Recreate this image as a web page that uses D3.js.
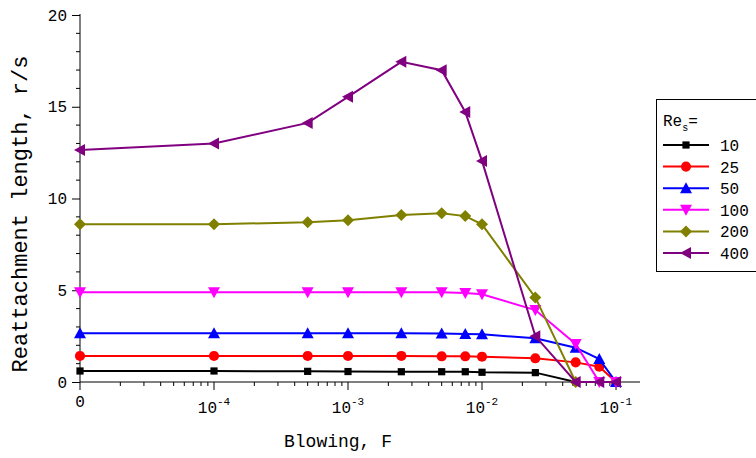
<!DOCTYPE html>
<html>
<head>
<meta charset="utf-8">
<script src="https://cdn.jsdelivr.net/npm/d3@7"></script>
<style>
  body { margin: 0; background: #fff; }
  svg text { font-family: "Liberation Mono", "DejaVu Sans Mono", monospace; fill: #000; }
</style>
</head>
<body>
<div id="chart"></div>
<script>
// DATA
const blowing = [0, 1e-4, 5e-4, 1e-3, 2.5e-3, 5e-3, 7.5e-3, 1e-2, 2.5e-2, 5e-2, 7.5e-2, 1e-1];
const re10  = [0.60, 0.60, 0.58, 0.57, 0.56, 0.56, 0.56, 0.53, 0.51, 0];
const re25  = [1.42, 1.42, 1.42, 1.42, 1.42, 1.40, 1.40, 1.38, 1.29, 1.07, 0.83, 0];
const re50  = [2.65, 2.65, 2.65, 2.65, 2.65, 2.64, 2.62, 2.60, 2.38, 1.87, 1.25, 0];
const re100 = [4.89, 4.89, 4.89, 4.89, 4.89, 4.89, 4.85, 4.78, 3.92, 2.07, 0, 0];
const re200 = [8.59, 8.60, 8.70, 8.81, 9.10, 9.20, 9.04, 8.59, 4.61, 0];
const re400 = [12.64, 13.00, 14.12, 15.54, 17.45, 16.99, 14.72, 12.05, 2.50, 0, 0, 0];
const seriesNames = ["10", "25", "50", "100", "200", "400"];
const seriesValues = [re10, re25, re50, re100, re200, re400];
const yTicks = [0, 5, 10, 15, 20];
const xMajor = [1e-4, 1e-3, 1e-2, 1e-1];
const xExp = ["-4", "-3", "-2", "-1"];

const colors = ["#000000", "#ff0000", "#0000ff", "#ff00ff", "#808000", "#800080"];
const shapes = ["square", "circle", "up", "down", "diamond", "left"];

const width = 756, height = 458;
const ZERO = 1e-5; // "0" is drawn one decade below 10^-4

const svg = d3.select("#chart").append("svg")
  .attr("width", width).attr("height", height);

const x = d3.scaleLog().domain([ZERO, 0.151]).range([80, 640]);
const y = d3.scaleLinear().domain([0, 20]).range([382, 15]);
const xv = v => x(v === 0 ? ZERO : v);

// AXES
const yAxis = d3.axisLeft(y).tickValues(yTicks).tickSize(8).tickPadding(5).tickFormat(d3.format("d"));
const gy = svg.append("g").attr("transform", "translate(80,0)").call(yAxis);
gy.select(".domain").attr("d", `M0,${y(20) - 1}V${y(0)}`);
gy.selectAll("text").style("font-size", "16px");

// minor y ticks
svg.append("g").selectAll("line")
  .data(d3.range(0, 21).filter(d => d % 5 !== 0))
  .join("line")
  .attr("x1", 76).attr("x2", 80)
  .attr("y1", d => y(d)).attr("y2", d => y(d))
  .attr("stroke", "#000");

const gx = svg.append("g").attr("transform", "translate(0,382)");
gx.append("line").attr("x1", 80).attr("x2", 640).attr("stroke", "#000");
// major x ticks (including the "0" position)
gx.selectAll("line.major")
  .data([ZERO, ...xMajor])
  .join("line").attr("class", "major")
  .attr("x1", d => x(d)).attr("x2", d => x(d))
  .attr("y1", 0).attr("y2", 8).attr("stroke", "#000");
// minor x ticks
const minors = [];
for (let e = -5; e < -1; e++) for (let m = 2; m <= 9; m++) minors.push(m * Math.pow(10, e));
gx.selectAll("line.minor")
  .data(minors)
  .join("line").attr("class", "minor")
  .attr("x1", d => x(d)).attr("x2", d => x(d))
  .attr("y1", 0).attr("y2", 4).attr("stroke", "#000");

gx.append("text").attr("x", x(ZERO)).attr("y", 25)
  .attr("text-anchor", "middle").style("font-size", "16px").text("0");
const xl = gx.selectAll("text.major")
  .data(xMajor)
  .join("text").attr("class", "major")
  .attr("x", d => x(d)).attr("y", 31)
  .attr("text-anchor", "middle").style("font-size", "16px");
xl.append("tspan").text("10");
xl.append("tspan").attr("dy", -8).style("font-size", "11px").text((d, i) => xExp[i]);

// axis titles
svg.append("text")
  .attr("x", 338).attr("y", 447)
  .attr("text-anchor", "middle").style("font-size", "18px")
  .text("Blowing, F");
svg.append("text")
  .attr("transform", "translate(27,214) rotate(-90)")
  .attr("text-anchor", "middle").style("font-size", "22px")
  .text("Reattachment length, r/s");

// MARKERS
function markerPath(shape) {
  const s = 5;
  switch (shape) {
    case "square": return d3.symbol(d3.symbolSquare, 52)();
    case "circle": return d3.symbol(d3.symbolCircle, 80)();
    case "diamond": return `M0,${-s - 1}L${s + 1},0L0,${s + 1}L${-s - 1},0Z`;
    case "up": return `M0,${-s - 1}L${s + 1},${s}L${-s - 1},${s}Z`;
    case "down": return `M0,${s + 1}L${s + 1},${-s}L${-s - 1},${-s}Z`;
    case "left": return `M${-s - 1},0L${s},${-s - 1}L${s},${s + 1}Z`;
  }
}

const line = d3.line().x(d => xv(d.x)).y(d => y(d.y));

seriesValues.forEach((vals, i) => {
  const pts = vals.map((v, j) => ({ x: blowing[j], y: v }));
  const g = svg.append("g");
  g.append("path").datum(pts)
    .attr("d", line)
    .attr("fill", "none").attr("stroke", colors[i]).attr("stroke-width", 2);
  g.selectAll("path.m").data(pts).join("path").attr("class", "m")
    .attr("d", markerPath(shapes[i]))
    .attr("transform", d => `translate(${xv(d.x)},${y(d.y)})`)
    .attr("fill", colors[i]);
});

// LEGEND
const lg = svg.append("g");
lg.append("rect").attr("x", 656.5).attr("y", 99.5).attr("width", 130).attr("height", 172)
  .attr("fill", "#fff").attr("stroke", "#000");
const title = lg.append("text").attr("x", 663).attr("y", 126).style("font-size", "16px");
title.append("tspan").text("Re");
title.append("tspan").attr("dy", 5).style("font-size", "10px").text("s");
title.append("tspan").attr("dy", -5).text("=");
seriesNames.forEach((name, i) => {
  const yy = 145 + i * 21.6;
  lg.append("line").attr("x1", 663).attr("x2", 709).attr("y1", yy).attr("y2", yy)
    .attr("stroke", colors[i]).attr("stroke-width", 2);
  lg.append("path").attr("d", markerPath(shapes[i]))
    .attr("transform", `translate(686,${yy})`).attr("fill", colors[i]);
  lg.append("text").attr("x", 720).attr("y", yy + 6).style("font-size", "16px").text(name);
});
</script>
</body>
</html>
